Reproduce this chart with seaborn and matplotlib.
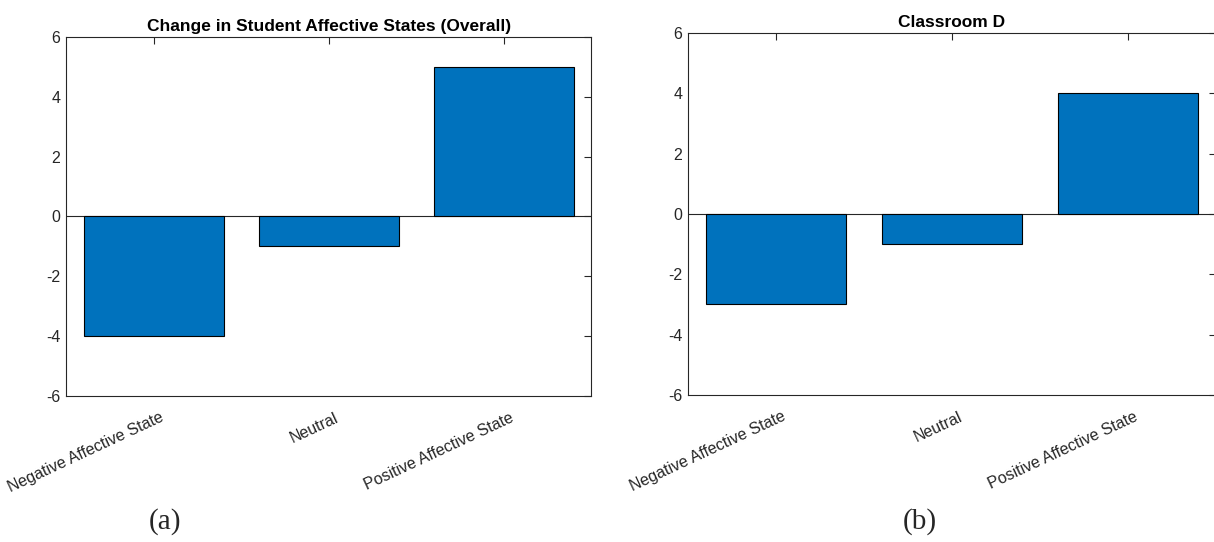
import matplotlib
matplotlib.use("Agg")
import matplotlib.pyplot as plt
import matplotlib.transforms as mtransforms
import seaborn as sns
import pandas as pd

# Affective state categories and change values per panel
categories = ["Negative Affective State", "Neutral", "Positive Affective State"]
overall_change = [-4, -1, 5]
classroom_d_change = [-3, -1, 4]
panel_titles = ["Change in Student Affective States (Overall)", "Classroom D"]
panel_tags = ["(a)", "(b)"]
y_ticks = [-6, -4, -2, 0, 2, 4, 6]

sns.set_theme(style="white")
plt.rcParams["font.family"] = ["Liberation Sans", "DejaVu Sans"]

BAR_COLOR = "#0072BD"
AX_COLOR = "#262626"

fig = plt.figure(figsize=(12.14, 5.42), dpi=100)
ax_a = fig.add_axes([0.0544, 0.2694, 0.4325, 0.6624])
ax_b = fig.add_axes([0.5667, 0.2712, 0.4350, 0.6680])

# small rightward nudge for the slanted category labels
label_shift = mtransforms.ScaledTranslation(6 / 100, 0, fig.dpi_scale_trans)

for ax, values, title in [(ax_a, overall_change, panel_titles[0]),
                          (ax_b, classroom_d_change, panel_titles[1])]:
    df = pd.DataFrame({"state": categories, "change": values})
    sns.barplot(data=df, x="state", y="change", ax=ax, color=BAR_COLOR,
                saturation=1, edgecolor="black", linewidth=0.8, width=0.8)
    ax.axhline(0, color=AX_COLOR, linewidth=0.8, zorder=0.5)
    ax.set_xlim(-0.5, 2.5)
    ax.set_ylim(-6, 6)
    ax.set_yticks(y_ticks)
    ax.set_yticklabels([str(t) for t in y_ticks])
    ax.set_xlabel("")
    ax.set_ylabel("")
    ax.set_title(title, fontsize=12.5, fontweight="bold", color="black", pad=4)
    ax.tick_params(direction="in", top=True, right=True, length=5, width=0.8,
                   colors=AX_COLOR, labelsize=11.5, pad=4)
    ax.tick_params(axis="x", pad=10)
    for lbl in ax.get_xticklabels():
        lbl.set_rotation(25)
        lbl.set_ha("right")
        lbl.set_va("top")
        lbl.set_rotation_mode("anchor")
        lbl.set_transform(lbl.get_transform() + label_shift)
    for sp in ax.spines.values():
        sp.set_color(AX_COLOR)
        sp.set_linewidth(0.8)
        sp.set_visible(True)

fig.text(0.136, 0.024, panel_tags[0], fontsize=21, family="Liberation Serif",
         ha="center", va="baseline")
fig.text(0.758, 0.024, panel_tags[1], fontsize=21, family="Liberation Serif",
         ha="center", va="baseline")

fig.savefig("out.png", dpi=100, facecolor="white")
